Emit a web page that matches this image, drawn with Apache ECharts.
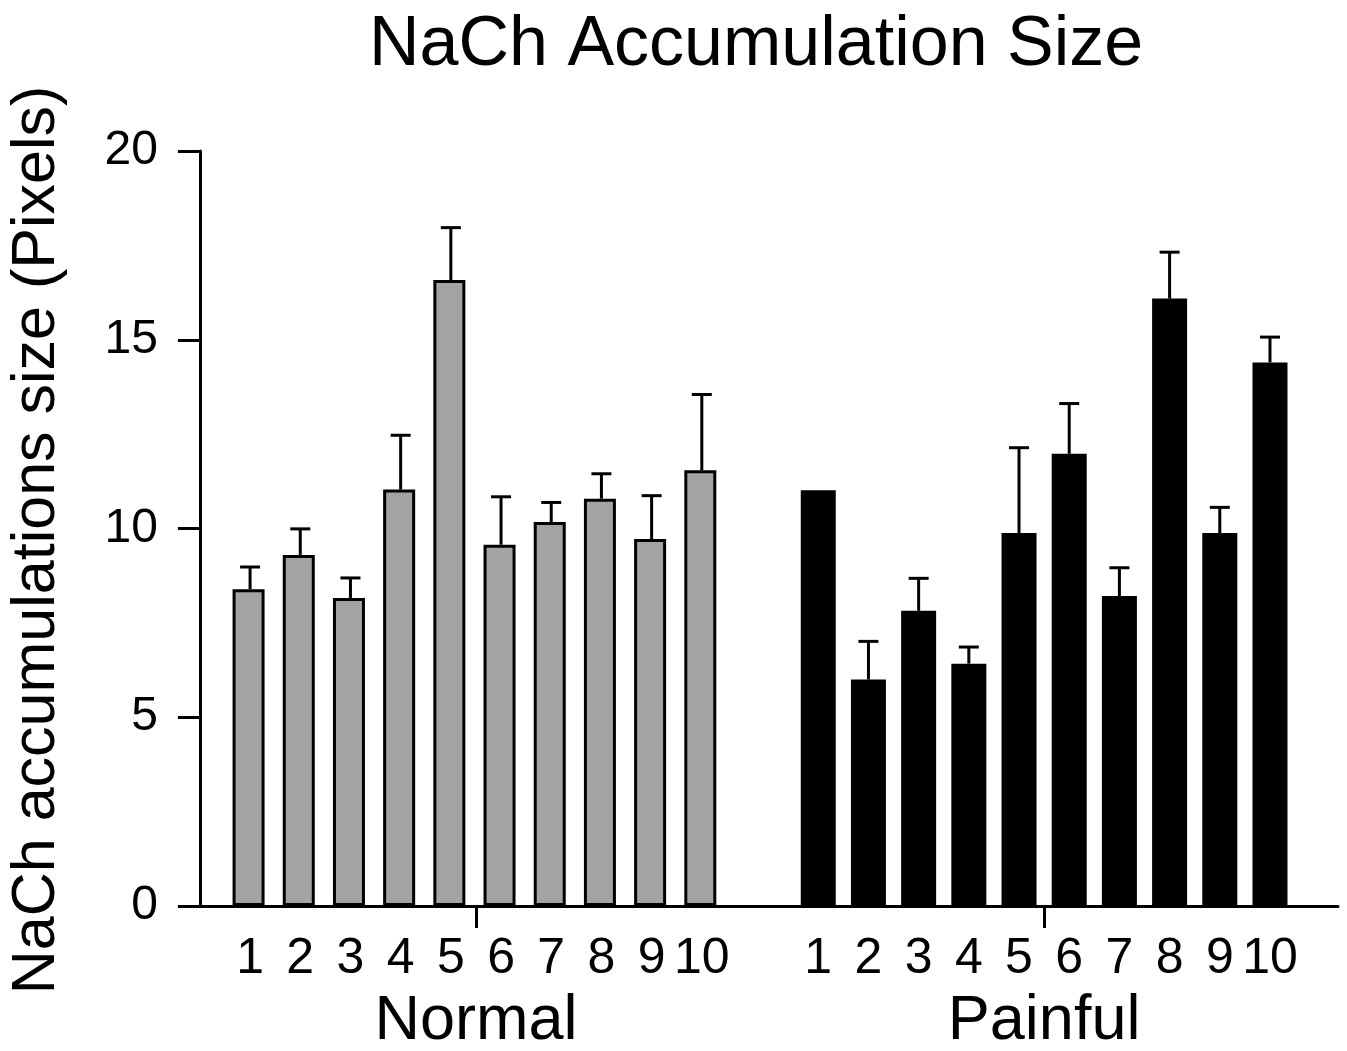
<!DOCTYPE html>
<html>
<head>
<meta charset="utf-8">
<title>NaCh Accumulation Size</title>
<script src="https://cdn.jsdelivr.net/npm/echarts@6/dist/echarts.min.js"></script>
<style>
  html, body { margin: 0; padding: 0; background: #fff; }
  #main { width: 1347px; height: 1051px; }
</style>
</head>
<body>
<div id="main"></div>
<script>
var groups = ["Normal", "Painful"];
var subjects = ["1", "2", "3", "4", "5", "6", "7", "8", "9", "10"];
var normalMean = [8.39, 9.30, 8.16, 11.03, 16.58, 9.57, 10.17, 10.79, 9.72, 11.54];
var normalErr = [0.59, 0.69, 0.53, 1.44, 1.39, 1.27, 0.52, 0.66, 1.15, 2.01];
var painfulMean = [11.01, 6.00, 7.82, 6.42, 9.88, 11.98, 8.21, 16.09, 9.88, 14.40];
var painfulErr = [0, 1.01, 0.86, 0.44, 2.26, 1.33, 0.75, 1.23, 0.68, 0.67];
var yTicks = [0, 5, 10, 15, 20];

(function () {
    var myChart = echarts.init(document.getElementById('main'));
    var font = '"Liberation Sans", Arial, sans-serif';

    // bars sit on a numeric x axis: group 1 at 1..10, group 2 after a gap
    var groupStart = [1, 12.32];
    var labelMap = {};
    var groupCenters = [];
    function pos(g, i) { return groupStart[g] + i; }
    subjects.forEach(function (s, i) {
        labelMap[pos(0, i).toFixed(2)] = s;
        labelMap[pos(1, i).toFixed(2)] = s;
    });
    groups.forEach(function (name, g) {
        var c = pos(g, (subjects.length - 1) / 2);
        groupCenters.push(c);
        labelMap['g' + c.toFixed(2)] = name;
    });
    var labelValues = [];
    subjects.forEach(function (s, i) { labelValues.push(pos(0, i)); });
    subjects.forEach(function (s, i) { labelValues.push(pos(1, i)); });

    function barData(g, means) {
        return means.map(function (v, i) { return [pos(g, i), v]; });
    }
    function errData(g, means, errs) {
        return means.map(function (v, i) { return [pos(g, i), v, errs[i]]; });
    }

    function renderErr(params, api) {
        var err = api.value(2);
        if (!err) return null;
        var x = api.value(0), top = api.value(1);
        var p0 = api.coord([x, top]);
        var p1 = api.coord([x, top + err]);
        var half = 10;
        return {
            type: 'group',
            children: [
                { type: 'line', shape: { x1: p0[0], y1: p0[1], x2: p1[0], y2: p1[1] },
                  style: { stroke: '#000', lineWidth: 3 } },
                { type: 'line', shape: { x1: p1[0] - half, y1: p1[1], x2: p1[0] + half, y2: p1[1] },
                  style: { stroke: '#000', lineWidth: 3 } }
            ]
        };
    }

    var option = {
        backgroundColor: '#fff',
        animation: false,
        title: {
            text: 'NaCh Accumulation Size',
            left: 364,
            top: 6,
            textStyle: { fontFamily: font, fontSize: 70, fontWeight: 'normal', color: '#000' }
        },
        grid: { left: 192, right: 9, top: 151, bottom: 145, containLabel: false, outerBoundsMode: 'none' },
        xAxis: [
            {
                type: 'value',
                min: -0.157,
                max: 22.675,
                position: 'bottom',
                splitLine: { show: false },
                axisLine: { show: true, onZero: false, lineStyle: { color: '#000', width: 3 } },
                axisTick: { show: true, customValues: groupCenters, length: 22, lineStyle: { color: '#000', width: 3 } },
                axisLabel: {
                    customValues: labelValues,
                    margin: 28,
                    color: '#000',
                    fontFamily: font,
                    fontSize: 50,
                    formatter: function (v) { return labelMap[v.toFixed(2)] || ''; }
                }
            },
            {
                type: 'value',
                min: -0.157,
                max: 22.675,
                position: 'bottom',
                splitLine: { show: false },
                axisLine: { show: false },
                axisTick: { show: false },
                axisLabel: {
                    customValues: groupCenters,
                    margin: 84,
                    color: '#000',
                    fontFamily: font,
                    fontSize: 63,
                    formatter: function (v) { return labelMap['g' + v.toFixed(2)] || ''; }
                }
            }
        ],
        yAxis: {
            type: 'value',
            min: 0,
            max: 20,
            interval: 5,
            name: 'NaCh accumulations size (Pixels)',
            nameLocation: 'middle',
            nameGap: 124,
            nameTextStyle: { fontFamily: font, fontSize: 61, color: '#000', padding: [0, 23, 0, 0] },
            splitLine: { show: false },
            axisLine: { show: true, lineStyle: { color: '#000', width: 3 } },
            axisTick: { show: true, length: 22, customValues: yTicks, lineStyle: { color: '#000', width: 3 } },
            axisLabel: {
                customValues: yTicks,
                margin: 34,
                color: '#000',
                fontFamily: font,
                fontSize: 48
            }
        },
        series: [
            {
                name: groups[0],
                type: 'bar',
                barWidth: 32,
                data: barData(0, normalMean),
                itemStyle: { color: '#a3a3a3', borderColor: '#000', borderWidth: 3 }
            },
            {
                name: groups[1],
                type: 'bar',
                barWidth: 35,
                barGap: '-100%',
                data: barData(1, painfulMean),
                itemStyle: { color: '#000' }
            },
            {
                type: 'custom',
                renderItem: renderErr,
                data: errData(0, normalMean, normalErr),
                z: 1
            },
            {
                type: 'custom',
                renderItem: renderErr,
                data: errData(1, painfulMean, painfulErr),
                z: 1
            }
        ]
    };

    myChart.setOption(option);
    window.addEventListener("resize", function () {
        myChart.resize();
    });
})();
</script>
</body>
</html>
